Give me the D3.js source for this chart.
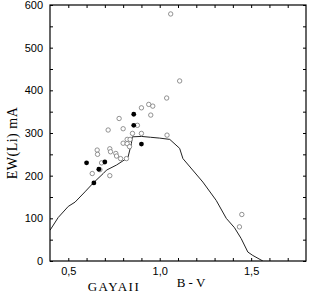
<!DOCTYPE html>
<html>
<head>
<meta charset="utf-8">
<script src="https://cdn.jsdelivr.net/npm/d3@7"></script>
<style>
  body { margin: 0; background: #fff; }
</style>
</head>
<body>
<script>
const svgWidth = 311
const svgHeight = 297

const margin = { top: 5, right: 5, bottom: 36, left: 50 }
const chartWidth = svgWidth - margin.left - margin.right
const chartHeight = svgHeight - margin.top - margin.bottom

// open circles: B-V, EW(Li)
const openBV = [1.06, 1.109, 1.038, 0.94, 0.962, 0.951, 1.04, 0.90, 0.778, 0.718, 0.80, 0.878,
    0.851, 0.90, 0.822, 0.838, 0.80, 0.822, 0.835, 0.658, 0.66, 0.727, 0.731, 0.76, 0.764,
    0.786, 0.818, 0.682, 0.631, 0.673, 0.727, 1.449, 1.436]
const openEW = [579, 422, 382, 367, 363, 342, 295, 359, 334, 307, 310, 318,
    299, 299, 285, 285, 276, 275, 268, 260, 250, 263, 256, 252, 246,
    240, 240, 230, 205, 214, 200, 109, 80]

// filled circles
const filledBV = [0.858, 0.858, 0.90, 0.60, 0.70, 0.667, 0.64]
const filledEW = [344, 318, 274, 230, 232, 215, 183]

// model curve
const curveBV = [0.4, 0.445, 0.5, 0.537, 0.591, 0.637, 0.691, 0.709, 0.764, 0.818, 0.827, 0.845,
    0.85, 0.9, 0.95, 1.0, 1.055, 1.109, 1.127, 1.236, 1.309, 1.364, 1.409, 1.445, 1.482, 1.509, 1.564]
const curveEW = [72, 102, 128, 138, 162, 183, 205, 213, 225, 240, 244, 275,
    291, 292, 290, 288, 285, 264, 240, 185, 142, 100, 78, 53, 21, 13, 0]

const xTickLabels = [0.5, 1.0, 1.5]
const yTickLabels = [0, 100, 200, 300, 400, 500, 600]

const svg = d3.select("body").append("svg")
    .attr("width", svgWidth)
    .attr("height", svgHeight)

const chartG = svg.append("g")
    .attr("transform", `translate(${margin.left}, ${margin.top})`)

const x = d3.scaleLinear().domain([0.4, 1.8]).range([0, chartWidth])
const y = d3.scaleLinear().domain([0, 600]).range([chartHeight, 0])

const commaFmt = d => d3.format(".1f")(d).replace(".", ",")

const xMinor = d3.range(5, 18).map(d => d / 10)
const yMinor = d3.range(0, 601, 50)

// clip for curve
svg.append("clipPath").attr("id", "clip")
    .append("rect").attr("width", chartWidth).attr("height", chartHeight)

const pts = curveBV.map((d, i) => [d, curveEW[i]])
const line = d3.line().x(d => x(d[0])).y(d => y(d[1]))

chartG.append("path")
    .attr("d", line(pts))
    .attr("clip-path", "url(#clip)")
    .attr("fill", "none")
    .attr("stroke", "#222")
    .attr("stroke-width", 1)

chartG.selectAll("circle.open")
    .data(openBV)
    .join("circle")
    .attr("class", "open")
    .attr("cx", d => x(d))
    .attr("cy", (d, i) => y(openEW[i]))
    .attr("r", 2.2)
    .attr("fill", "#fff")
    .attr("stroke", "#777")
    .attr("stroke-width", 0.8)

chartG.selectAll("circle.filled")
    .data(filledBV)
    .join("circle")
    .attr("class", "filled")
    .attr("cx", d => x(d))
    .attr("cy", (d, i) => y(filledEW[i]))
    .attr("r", 2.4)
    .attr("fill", "#000")

// axes, ticks pointing inward
const styleAxis = g => {
    g.select(".domain").remove()
    g.selectAll("line").attr("stroke", "#000").attr("stroke-width", 1)
    g.selectAll("text").attr("font-family", "Liberation Sans, Arial, sans-serif")
        .attr("font-size", 11).attr("fill", "#000")
}

chartG.append("g")
    .attr("transform", `translate(0, ${chartHeight})`)
    .call(d3.axisBottom(x).tickValues(xMinor).tickSizeInner(-3).tickSizeOuter(0)
        .tickPadding(6).tickFormat(d => xTickLabels.some(v => Math.abs(v - d) < 1e-9) ? commaFmt(d) : ""))
    .call(styleAxis)

chartG.append("g")
    .call(d3.axisTop(x).tickValues(xMinor).tickSizeInner(-3).tickSizeOuter(0).tickFormat(""))
    .call(styleAxis)

chartG.append("g")
    .call(d3.axisLeft(y).tickValues(yMinor).tickSizeInner(-3).tickSizeOuter(0)
        .tickPadding(7).tickFormat(d => yTickLabels.includes(d) ? d : ""))
    .call(styleAxis)

chartG.append("g")
    .attr("transform", `translate(${chartWidth}, 0)`)
    .call(d3.axisRight(y).tickValues(yMinor).tickSizeInner(-3).tickSizeOuter(0).tickFormat(""))
    .call(styleAxis)

chartG.append("rect")
    .attr("width", chartWidth)
    .attr("height", chartHeight)
    .attr("fill", "none")
    .attr("stroke", "#000")
    .attr("stroke-width", 1.2)

// titles
svg.append("text")
    .attr("transform", `translate(17, ${margin.top + chartHeight / 2 + 10}) rotate(-90)`)
    .attr("text-anchor", "middle")
    .attr("font-family", "Liberation Serif, Times New Roman, serif")
    .attr("font-size", 14)
    .attr("letter-spacing", 0.5)
    .text("EW(Li) mA")

svg.append("text")
    .attr("x", 191)
    .attr("y", 287)
    .attr("text-anchor", "middle")
    .attr("font-family", "Liberation Serif, Times New Roman, serif")
    .attr("font-size", 13)
    .text("B - V")

svg.append("text")
    .attr("x", 114)
    .attr("y", 291)
    .attr("text-anchor", "middle")
    .attr("font-family", "Liberation Serif, Times New Roman, serif")
    .attr("font-size", 13)
    .attr("letter-spacing", 1.5)
    .text("GAYAII")
</script>
</body>
</html>
